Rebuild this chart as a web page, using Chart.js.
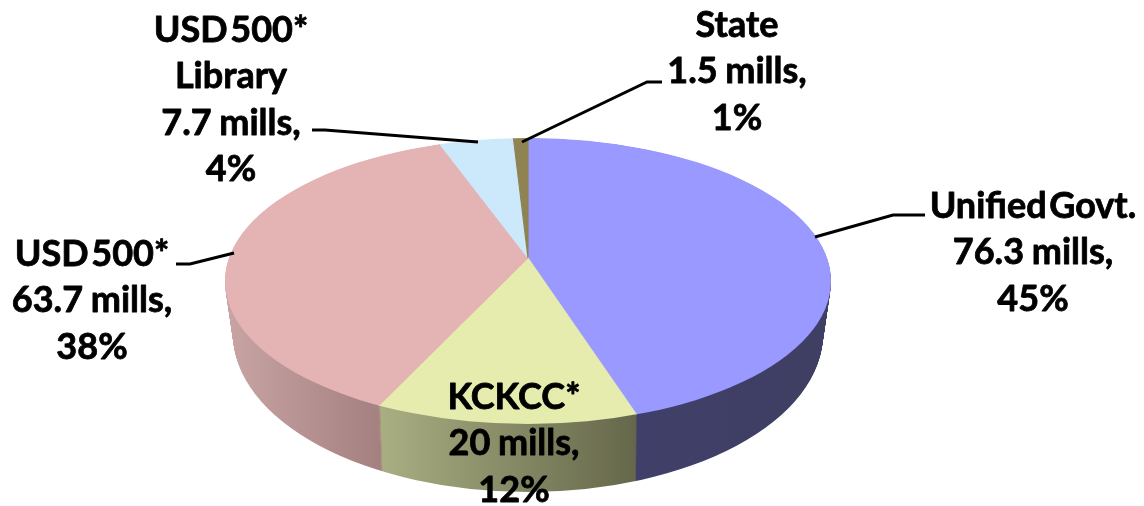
<!DOCTYPE html>
<html>
<head>
<meta charset="utf-8">
<script src="https://cdn.jsdelivr.net/npm/chart.js@4"></script>
<style>
    body { margin: 0; background: #fff; }
    #pieChart { display: block; }
</style>
</head>
<body>
<canvas id="pieChart" width="1144" height="506"></canvas>
<script>
var categories = ["Unified Govt.", "KCKCC*", "USD 500*", "USD 500* Library", "State"];
var mills = [76.3, 20, 63.7, 7.7, 1.5];
var topColors = ["#9999ff", "#e5ecae", "#e4b3b3", "#cce8fb", "#8f8352"];
var sideLeft = ["#3f3f69", "#a9ae82", "#c9a4a4", "#a0b5c0", "#6b6340"];
var sideRight = ["#3f3f63", "#65674a", "#a58080", "#a0b5c0", "#6b6340"];

var labelLines = [
    ["Unified Govt.", "76.3 mills,", "45%"],
    ["KCKCC*", "20 mills,", "12%"],
    ["USD 500*", "63.7 mills,", "38%"],
    ["USD 500*", "Library", "7.7 mills,", "4%"],
    ["State", "1.5 mills,", "1%"]
];

// where the text and leader lines sit
var labelBoxes = [
    { x: 1033, y: 206, line: [[815, 237], [893, 215], [925, 215]] },
    { x: 514, y: 397, line: null },
    { x: 92, y: 254, line: [[234, 253], [190, 264], [176, 264]] },
    { x: 231, y: 30, line: [[478, 142], [325, 130], [312, 130]] },
    { x: 737, y: 25, line: [[522, 142], [647, 82], [662, 82]] }
];
var lineGap = 46.5;

// look of the tilted pie
var rim = { cx: 528, cy: 281, rx: 303, ry: 143 };
var rimBottom = { cy: 334, rx: 295, ry: 158 };
var depth = 68;
var tiltX = 1.17;
var tiltY = 0.537;
var sideRange = [[637, 831], [381, 637], [226, 381], [226, 381], [226, 381]];

function clipRim(ctx, t) {
    ctx.beginPath();
    ctx.ellipse(rim.cx,
        rim.cy + (rimBottom.cy - rim.cy) * t,
        rim.rx + (rimBottom.rx - rim.rx) * t,
        rim.ry + (rimBottom.ry - rim.ry) * t,
        0, 0, Math.PI * 2);
    ctx.clip();
}

function tilt(ctx, x, y) {
    ctx.translate(x, y);
    ctx.scale(tiltX, tiltY);
    ctx.translate(-x, -y);
}

const pie3d = {
    id: "pie3d",
    beforeDatasetsDraw: function (chart) {
        var ctx = chart.ctx;
        var arcs = chart.getDatasetMeta(0).data;
        var cx = arcs[0].x;
        var cy = arcs[0].y;

        // side wall, stacked from the bottom up
        var grads = arcs.map(function (arc, i) {
            var g = ctx.createLinearGradient(
                cx + (sideRange[i][0] - cx) / tiltX, 0,
                cx + (sideRange[i][1] - cx) / tiltX, 0);
            g.addColorStop(0, sideLeft[i]);
            g.addColorStop(1, sideRight[i]);
            return g;
        });
        for (var d = depth; d >= 1; d--) {
            ctx.save();
            clipRim(ctx, d / depth);
            tilt(ctx, cx, cy + d);
            ctx.translate(0, d);
            arcs.forEach(function (arc, i) {
                var keep = arc.options;
                arc.options = Object.assign({}, keep, {
                    backgroundColor: grads[i],
                    borderColor: grads[i]
                });
                arc.draw(ctx);
                arc.options = keep;
            });
            ctx.restore();
        }

        // top face
        ctx.save();
        clipRim(ctx, 0);
        tilt(ctx, cx, cy);
        arcs.forEach(function (arc) {
            arc.draw(ctx);
        });
        ctx.restore();
        return false;
    },
    afterDraw: function (chart) {
        var ctx = chart.ctx;
        ctx.save();
        ctx.strokeStyle = "#000";
        ctx.lineWidth = 3;
        labelBoxes.forEach(function (box) {
            if (!box.line) return;
            ctx.beginPath();
            box.line.forEach(function (p, i) {
                if (i === 0) ctx.moveTo(p[0], p[1]);
                else ctx.lineTo(p[0], p[1]);
            });
            ctx.stroke();
        });
        ctx.fillStyle = "#000";
        ctx.font = "bold 36px Lato";
        ctx.textAlign = "center";
        ctx.textBaseline = "middle";
        ctx.lineWidth = 0.8;
        ctx.lineJoin = "round";
        labelBoxes.forEach(function (box, i) {
            labelLines[i].forEach(function (text, n) {
                // names have a tight word gap in the original, the mills lines do not
                ctx.wordSpacing = text.indexOf("mills") >= 0 ? "-1px" : "-6px";
                ctx.fillText(text, box.x, box.y + n * lineGap);
                // the original lettering is heavier than Lato bold
                ctx.strokeText(text, box.x, box.y + n * lineGap);
            });
        });
        ctx.restore();
    }
};

const CHART = document.getElementById("pieChart");
var pieChart = new Chart(CHART, {
    type: "pie",
    data: {
        labels: categories,
        datasets: [{
            data: mills,
            backgroundColor: topColors,
            borderColor: topColors,
            borderWidth: 1
        }]
    },
    options: {
        responsive: false,
        animation: false,
        radius: 320,
        layout: { padding: { top: 10, right: 88 } },
        plugins: {
            legend: { display: false },
            tooltip: { enabled: false }
        }
    },
    plugins: [pie3d]
});
</script>
</body>
</html>
